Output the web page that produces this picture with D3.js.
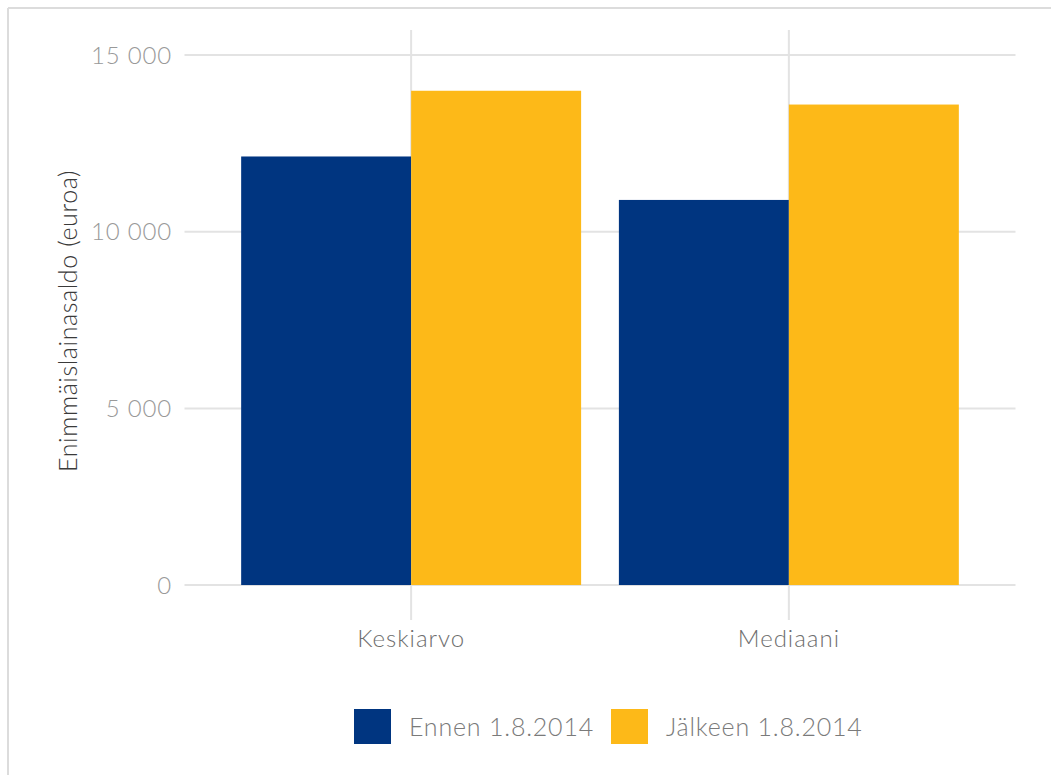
<!DOCTYPE html>
<html><head><meta charset="utf-8">
<script src="https://cdn.jsdelivr.net/npm/d3@7"></script>
<style>
html,body{margin:0;padding:0;background:#fff;}
svg{display:block;font-family:Lato,"Open Sans",sans-serif;font-weight:300;}
</style></head>
<body>
<svg id="chart" width="1051" height="775"></svg>
<script>
const categories = ["Keskiarvo", "Mediaani"];
const seriesNames = ["Ennen 1.8.2014", "Jälkeen 1.8.2014"];
const ennenValues = [12130, 10900];
const jalkeenValues = [13990, 13600];
const yTicks = [0, 5000, 10000, 15000];
const yTickLabels = ["0", "5 000", "10 000", "15 000"];
const colors = ["#003580", "#FDB918"];

const svg = d3.select("#chart");
// outer frame (top + left)
svg.append("line").attr("x1",8).attr("x2",1051).attr("y1",8).attr("y2",8).attr("stroke","#dcdcdc").attr("stroke-width",2);
svg.append("line").attr("x1",8).attr("x2",8).attr("y1",8).attr("y2",775).attr("stroke","#dcdcdc").attr("stroke-width",2);

const pl = 184.5, pr = 1015.5, pt = 30, pb = 620;
const xOuter = d3.scalePoint().domain(categories).range([pl + 0.6*(pr-pl)/2.2, pr - 0.6*(pr-pl)/2.2]);
const step = (pr-pl)/2.2;
const xInner = d3.scaleBand().domain(seriesNames).range([-0.45*step, 0.45*step]);
const y = d3.scaleLinear().domain([-990, 15710]).range([pb, pt]);

const grid = svg.append("g");
grid.selectAll("line.h").data(yTicks).join("line")
  .attr("x1", pl).attr("x2", pr)
  .attr("y1", d => y(d)).attr("y2", d => y(d))
  .attr("stroke", "#e3e3e3").attr("stroke-width", 2);
grid.selectAll("line.v").data(categories).join("line")
  .attr("x1", d => xOuter(d)).attr("x2", d => xOuter(d))
  .attr("y1", pt).attr("y2", pb)
  .attr("stroke", "#e3e3e3").attr("stroke-width", 2);

const data = [];
categories.forEach((c, i) => {
  data.push({cat: c, s: seriesNames[0], v: ennenValues[i], col: colors[0]});
  data.push({cat: c, s: seriesNames[1], v: jalkeenValues[i], col: colors[1]});
});
svg.append("g").selectAll("rect").data(data).join("rect")
  .attr("x", d => xOuter(d.cat) + xInner(d.s))
  .attr("width", xInner.bandwidth())
  .attr("y", d => y(d.v))
  .attr("height", d => y(0) - y(d.v))
  .attr("fill", d => d.col);

// y tick labels
svg.append("g").selectAll("text").data(yTicks).join("text")
  .attr("x", 172).attr("y", d => y(d)).attr("dy", "0.36em")
  .attr("text-anchor", "end").attr("fill", "#999999").attr("font-size", 24)
  .attr("letter-spacing", 0.8)
  .text((d, i) => yTickLabels[i]);

// x labels
svg.append("g").selectAll("text").data(categories).join("text")
  .attr("x", d => xOuter(d)).attr("y", 638).attr("dy", "0.36em")
  .attr("text-anchor", "middle").attr("fill", "#6e6e6e").attr("font-size", 24)
  .attr("letter-spacing", 1)
  .text(d => d);

// y title
svg.append("text").attr("transform", "translate(68,321) rotate(-90)")
  .attr("dy", "0.36em")
  .attr("text-anchor", "middle").attr("fill", "#3a3a3a").attr("font-size", 25)
  .attr("letter-spacing", 0.6)
  .text("Enimmäislainasaldo (euroa)");

// legend
const legX = [354, 611];
const lg = svg.append("g").selectAll("g").data(seriesNames).join("g")
  .attr("transform", (d, i) => `translate(${legX[i]},709)`);
lg.append("rect").attr("width", 37).attr("height", 35).attr("fill", (d, i) => colors[i]);
lg.append("text").attr("x", 55).attr("y", 18).attr("dy", "0.36em")
  .attr("fill", "#7a7a7a").attr("font-size", 25).attr("letter-spacing", 0.8).text(d => d);
</script>
</body></html>
